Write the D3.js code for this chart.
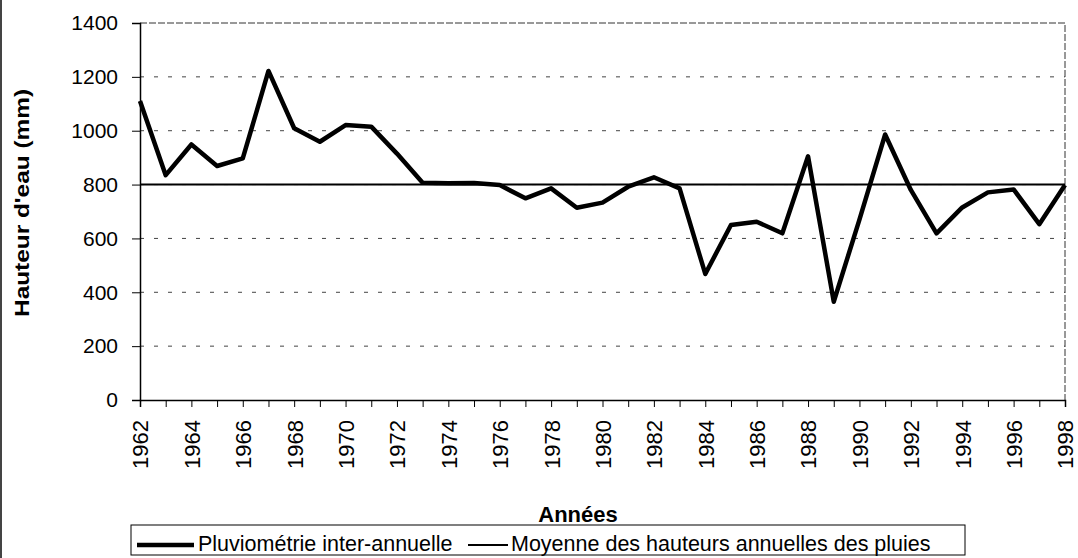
<!DOCTYPE html>
<html>
<head>
<meta charset="utf-8">
<script src="https://cdn.jsdelivr.net/npm/d3@7"></script>
<style>
  body { margin: 0; background: #fff; }
  text { font-family: "Liberation Sans", Arial, sans-serif; fill: #000; }
</style>
</head>
<body>
<div class="canvas"></div>
<script>
// annual rainfall
const years = d3.range(1962, 1999)
const rainfall = [1110, 835, 949, 869, 897, 1222, 1009, 959, 1021, 1015,
  915, 807, 805, 806, 798, 749, 786, 714, 733, 792,
  827, 786, 468, 650, 662, 619, 905, 365, 670, 986,
  780, 619, 715, 771, 782, 653, 798]
const meanValue = 800
const yTicks = [0, 200, 400, 600, 800, 1000, 1200, 1400]
const xLabelYears = d3.range(1962, 1999, 2)

const width = 1078, height = 558
const plotLeft = 140, plotRight = 1065, plotTop = 23, plotBottom = 400

const svg = d3.select('.canvas').append('svg')
    .attr('width', width)
    .attr('height', height)

const x = d3.scaleLinear().domain([1962, 1998]).range([plotLeft, plotRight])
const y = d3.scaleLinear().domain([0, 1400]).range([plotBottom, plotTop])

// outer frame (left edge only visible on the scan)
svg.append('line')
    .attr('x1', 1).attr('x2', 1)
    .attr('y1', 0).attr('y2', height)
    .attr('stroke', '#444')
    .attr('stroke-width', 2)

// dashed gridlines
svg.append('g')
  .selectAll('line')
  .data(yTicks.filter(d => d > 0 && d < 1400))
  .join('line')
    .attr('x1', plotLeft).attr('x2', plotRight)
    .attr('y1', d => y(d)).attr('y2', d => y(d))
    .attr('stroke', '#444')
    .attr('stroke-dasharray', '4,10')

// top and right plot border
svg.append('path')
    .attr('d', `M${plotLeft},${y(1400)}H${plotRight}V${plotBottom}`)
    .attr('fill', 'none')
    .attr('stroke', '#333')
    .attr('stroke-dasharray', '7,2')

// y axis
const yAxis = svg.append('g')
    .attr('transform', `translate(${plotLeft},0)`)
    .call(d3.axisLeft(y).tickValues(yTicks).tickFormat(d3.format('d'))
      .tickSize(8).tickPadding(14))
yAxis.select('.domain').attr('stroke', '#000').attr('stroke-width', 1.5)
yAxis.selectAll('text')
    .style('font-size', '21px')
    .style('font-family', '"Liberation Sans", Arial, sans-serif')

// x axis: a tick every year, label every two years
const xAxis = svg.append('g')
    .attr('transform', `translate(0,${plotBottom})`)
    .call(d3.axisBottom(x).tickValues(years).tickSize(7)
      .tickFormat(d => xLabelYears.includes(d) ? d : ''))
xAxis.select('.domain').attr('stroke', '#000').attr('stroke-width', 1.5)
xAxis.selectAll('text')
    .style('font-size', '22px')
    .style('font-family', '"Liberation Sans", Arial, sans-serif')
    .attr('text-anchor', 'end')
    .attr('transform', 'rotate(-90)')
    .attr('x', -20)
    .attr('y', 0)
    .attr('dy', '0.36em')

// mean line
svg.append('line')
    .attr('x1', x(1962)).attr('x2', x(1998))
    .attr('y1', y(meanValue)).attr('y2', y(meanValue))
    .attr('stroke', '#000')
    .attr('stroke-width', 2)

// rainfall series
const line = d3.line()
    .x((d, i) => x(years[i]))
    .y(d => y(d))

svg.append('path')
    .datum(rainfall)
    .attr('d', line)
    .attr('fill', 'none')
    .attr('stroke', '#000')
    .attr('stroke-width', 4.5)
    .attr('stroke-linejoin', 'round')

// axis titles
svg.append('text')
    .attr('transform', 'translate(29,203) rotate(-90)')
    .attr('text-anchor', 'middle')
    .attr('textLength', 228)
    .attr('lengthAdjust', 'spacingAndGlyphs')
    .style('font-size', '21px')
    .style('font-weight', 'bold')
    .text("Hauteur d'eau (mm)")

svg.append('text')
    .attr('x', 578)
    .attr('y', 522)
    .attr('text-anchor', 'middle')
    .style('font-size', '22px')
    .style('font-weight', 'bold')
    .text('Années')

// legend
const legend = svg.append('g')
legend.append('rect')
    .attr('x', 131).attr('y', 525)
    .attr('width', 834).attr('height', 30)
    .attr('fill', '#fff')
    .attr('stroke', '#000')
    .attr('stroke-width', 1)

legend.append('line')
    .attr('x1', 137).attr('x2', 194)
    .attr('y1', 545).attr('y2', 545)
    .attr('stroke', '#000')
    .attr('stroke-width', 4.5)
legend.append('text')
    .attr('x', 198).attr('y', 551)
    .style('font-size', '21.5px')
    .text('Pluviométrie inter-annuelle')

legend.append('line')
    .attr('x1', 468).attr('x2', 508)
    .attr('y1', 545).attr('y2', 545)
    .attr('stroke', '#000')
    .attr('stroke-width', 2)
legend.append('text')
    .attr('x', 511).attr('y', 551)
    .style('font-size', '21.5px')
    .text('Moyenne des hauteurs annuelles des pluies')
</script>
</body>
</html>
